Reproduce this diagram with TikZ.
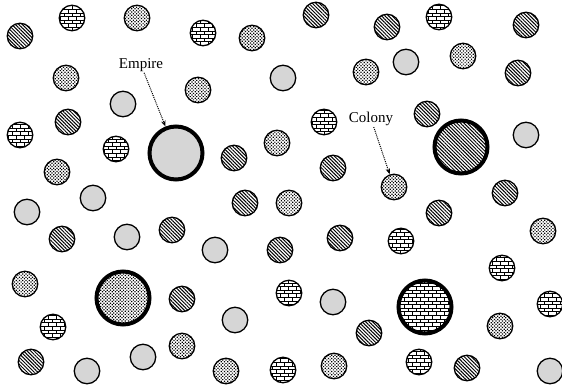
\documentclass[tikz,border=0pt]{standalone}
\usepackage{fontspec}
\setmainfont{Liberation Serif}
\usetikzlibrary{arrows.meta,patterns,patterns.meta}

% brick fill for colonies
\pgfdeclarepatternformonly{colbricks}{\pgfqpoint{-0.5pt}{-0.5pt}}{\pgfqpoint{8.5pt}{7.7pt}}{\pgfqpoint{8pt}{7.2pt}}{%
  \pgfsetlinewidth{0.6pt}%
  \pgfpathmoveto{\pgfqpoint{0pt}{0pt}}\pgfpathlineto{\pgfqpoint{8pt}{0pt}}%
  \pgfpathmoveto{\pgfqpoint{0pt}{3.6pt}}\pgfpathlineto{\pgfqpoint{8pt}{3.6pt}}%
  \pgfpathmoveto{\pgfqpoint{0pt}{0pt}}\pgfpathlineto{\pgfqpoint{0pt}{3.6pt}}%
  \pgfpathmoveto{\pgfqpoint{4pt}{3.6pt}}\pgfpathlineto{\pgfqpoint{4pt}{7.2pt}}%
  \pgfusepath{stroke}}

\begin{document}
\begin{tikzpicture}[x=1pt,y=-1pt,
  colony/.style={circle,draw,line width=1.3pt,minimum size=25.5pt,inner sep=0pt},
  empire/.style={circle,draw,line width=4pt,minimum size=53pt,inner sep=0pt},
  hatchfill/.style={pattern={Lines[angle=-45,distance=2.5pt,line width=1pt]}},
  brickfill/.style={pattern=colbricks},
  dotfill/.style={pattern={Dots[radius=0.85pt,distance=2.3pt,angle=45]}},
  lightfill/.style={pattern={Dots[radius=0.6pt,distance=2pt]},pattern color=black!70},
  label/.style={font=\fontsize{15}{17}\selectfont,inner sep=1pt},
  pointer/.style={densely dotted,line width=1pt,-{Stealth[length=6pt,width=4.5pt]}}]
\useasboundingbox (0,0) rectangle (562,391);

% empires
\node[empire,lightfill] (empL) at (176,153) {};
\node[empire,hatchfill] (empH) at (461,147) {};
\node[empire,dotfill]   (empD) at (123,298) {};
\node[empire,brickfill] (empB) at (425,307) {};

% colonies
\foreach \x/\y [count=\i] in {20/36,316/15,387/27,526/25,518/73,427/114,68/122,
    62/239,172/230,234/158,333/168,245/203,340/238,280/250,439/213,505/193,
    182/299,31/362,369/333,467/368}
  \node[colony,hatchfill] (h\i) at (\x,\y) {};
\foreach \x/\y [count=\i] in {72/18,203/33,439/17,324/122,20/135,116/149,
    401/241,502/268,53/327,289/293,283/370,550/304,419/362}
  \node[colony,brickfill] (b\i) at (\x,\y) {};
\foreach \x/\y [count=\i] in {137/18,252/38,66/78,198/90,366/72,463/56,57/172,
    277/143,289/203,543/231,25/284,182/346,226/371,334/366,500/326}
  \node[colony,dotfill] (d\i) at (\x,\y) {};
\foreach \x/\y [count=\i] in {123/104,283/78,406/62,526/135,93/198,27/212,
    127/237,215/250,235/320,333/302,87/371,143/357,550/371}
  \node[colony,lightfill] (l\i) at (\x,\y) {};
\node[colony,dotfill] (col) at (394,187) {};

% labels
\node[label] (emptext) at (141,65) {Empire};
\node[label] (coltext) at (371,119) {Colony};
\draw[pointer] (emptext) -- (empL);
\draw[pointer] (coltext) -- (col);
\end{tikzpicture}
\end{document}
